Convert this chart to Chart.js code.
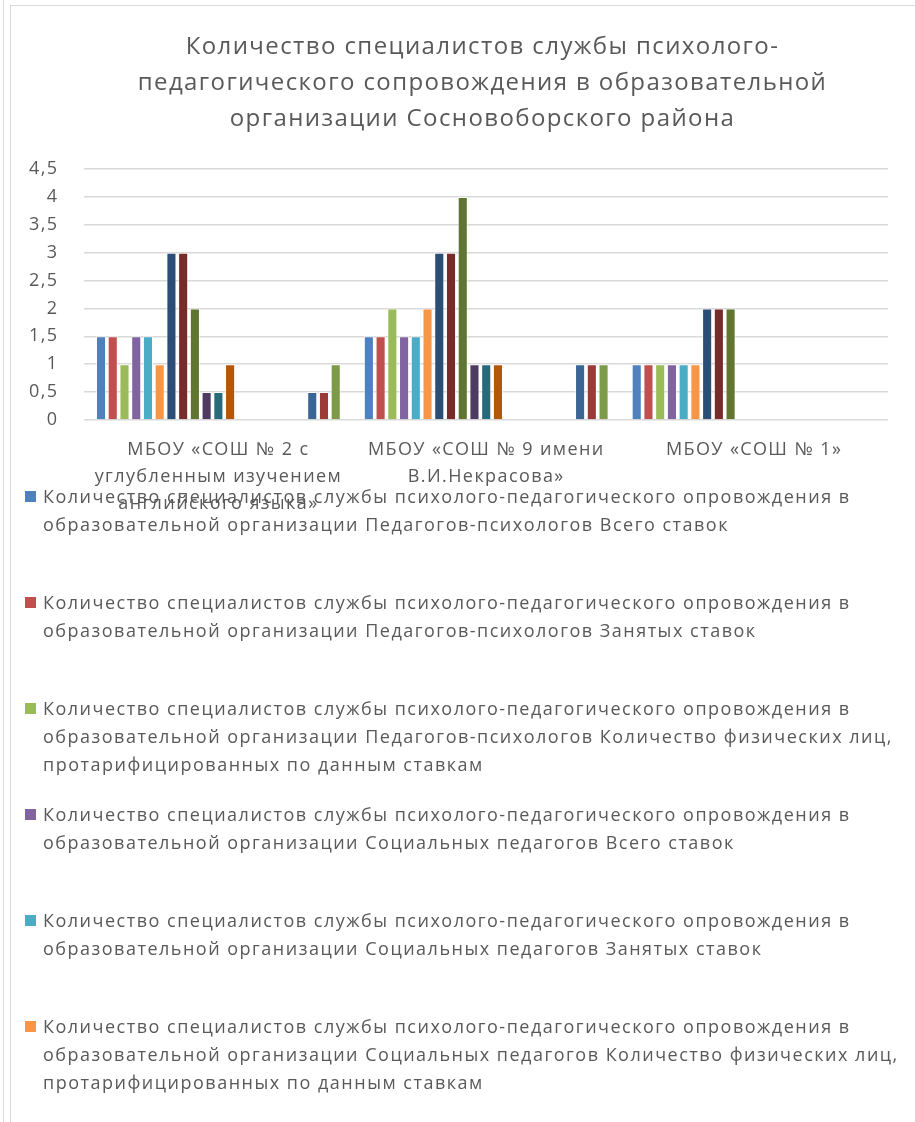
<!DOCTYPE html>
<html lang="ru">
<head>
<meta charset="utf-8">
<script src="https://cdn.jsdelivr.net/npm/chart.js@4.4.1/dist/chart.umd.min.js"></script>
<style>
  body { margin: 0; width: 915px; height: 1122px; overflow: hidden; position: relative; background: #fff; }
  #edge { position: absolute; left: 3px; top: 0; width: 1px; height: 1122px; background: #d9d9d9; }
  #frame { position: absolute; left: 10px; top: 5px; width: 1000px; height: 1200px; border-left: 1px solid #d9d9d9; border-top: 1px solid #d9d9d9; }
  #chartBox { position: absolute; left: 11px; top: 6px; width: 950px; height: 521px; }
  #legend { position: absolute; left: 25px; top: 482px; width: 884px; font-family: "Open Sans", sans-serif; font-size: 18px; letter-spacing: 1.5px; line-height: 28px; color: #595959; }
  #legend .item { display: flex; height: 106px; }
  #legend .box { flex: 0 0 11px; height: 11px; margin-top: 9px; margin-right: 7px; }
</style>
</head>
<body>
<div id="edge"></div>
<div id="frame"></div>
<div id="chartBox"><canvas id="chart"></canvas></div>
<div id="legend"></div>
<script>
const schools = [
  ['МБОУ «СОШ № 2 с', 'углубленным изучением', 'английского языка»'],
  ['МБОУ «СОШ № 9 имени', 'В.И.Некрасова»'],
  'МБОУ «СОШ № 1»'
];

const prefix = 'Количество специалистов службы психолого-педагогического опровождения в образовательной организации ';
const staffGroups = ['Педагогов-психологов', 'Социальных педагогов', 'Учителей-логопедов', 'Учителей-дефектологов', 'Тьюторов', 'Ассистентов', 'Иных специалистов'];
const rateKinds = ['Всего ставок', 'Занятых ставок', 'Количество физических лиц, протарифицированных по данным ставкам'];

// one row per series, values for the three schools
const seriesValues = [
  [1.5, 1.5, 1],
  [1.5, 1.5, 1],
  [1, 2, 1],
  [1.5, 1.5, 1],
  [1.5, 1.5, 1],
  [1, 2, 1],
  [3, 3, 2],
  [3, 3, 2],
  [2, 4, 2],
  [0.5, 1, null],
  [0.5, 1, null],
  [1, 1, null],
  [null, null, null],
  [null, null, null],
  [null, null, null],
  [null, null, null],
  [null, null, null],
  [null, null, null],
  [0.5, 1, null],
  [0.5, 1, null],
  [1, 1, null]
];

const seriesColors = [
  '#4F81BD', '#C0504D', '#9BBB59', '#8064A2', '#4BACC6', '#F79646',
  '#2C4D75', '#772C2A', '#5F7530', '#4D3B62', '#276A7C', '#B65708',
  '#729ACA', '#CD7371', '#AFC97A', '#9983B5', '#6FBDD1', '#F9AB6B',
  '#3A6595', '#9C3A38', '#7D9A48'
];

const yTicks = [0, 0.5, 1, 1.5, 2, 2.5, 3, 3.5, 4, 4.5];
const legendShown = 6;

const datasets = seriesValues.map((vals, i) => ({
  label: prefix + staffGroups[Math.floor(i / 3)] + ' ' + rateKinds[i % 3],
  data: vals,
  backgroundColor: seriesColors[i],
  borderColor: 'rgba(255,255,255,0.6)',
  borderWidth: 1,
  categoryPercentage: 0.92,
  barPercentage: 0.86
}));

const htmlLegend = {
  id: 'htmlLegend',
  afterUpdate(chart) {
    const box = document.getElementById('legend');
    box.innerHTML = '';
    chart.data.datasets.slice(0, legendShown).forEach(ds => {
      const item = document.createElement('div');
      item.className = 'item';
      const mark = document.createElement('span');
      mark.className = 'box';
      mark.style.background = ds.backgroundColor;
      const txt = document.createElement('span');
      txt.textContent = ds.label;
      item.appendChild(mark);
      item.appendChild(txt);
      box.appendChild(item);
    });
  }
};

// wider letter spacing like the original, and the title sits a bit right of the middle
const textTweaks = {
  id: 'textTweaks',
  beforeUpdate(chart) { chart.ctx.letterSpacing = '1.4px'; },
  beforeDraw(chart) { chart.ctx.letterSpacing = '1.4px'; },
  afterLayout(chart) {
    chart.titleBlock.left += 37;
    chart.titleBlock.right += 37;
  }
};

const font = "'Open Sans', sans-serif";

new Chart(document.getElementById('chart'), {
  type: 'bar',
  data: { labels: schools, datasets: datasets },
  plugins: [htmlLegend, textTweaks],
  options: {
    responsive: true,
    maintainAspectRatio: false,
    animation: false,
    layout: { padding: { left: -8, right: 73, top: 0, bottom: 2 } },
    plugins: {
      legend: { display: false },
      tooltip: { enabled: false },
      title: {
        display: true,
        text: ['Количество специалистов службы психолого-', 'педагогического сопровождения в образовательной', 'организации Сосновоборского района'],
        color: '#595959',
        font: { family: font, size: 24, weight: 'normal', lineHeight: 1.5 },
        padding: { top: 23, bottom: 32 }
      }
    },
    scales: {
      x: {
        grid: { display: false },
        border: { display: false },
        ticks: {
          color: '#595959',
          font: { family: font, size: 18, lineHeight: 1.5 },
          maxRotation: 0,
          autoSkip: false,
          padding: 8
        }
      },
      y: {
        min: 0,
        max: 4.5,
        afterBuildTicks: axis => { axis.ticks = yTicks.map(v => ({ value: v })); },
        grid: { color: '#d9d9d9', lineWidth: 1.5, drawTicks: false },
        border: { display: false },
        ticks: {
          color: '#595959',
          font: { family: font, size: 18 },
          padding: 26,
          callback: v => String(v).replace('.', ',')
        }
      }
    }
  }
});
</script>
</body>
</html>
